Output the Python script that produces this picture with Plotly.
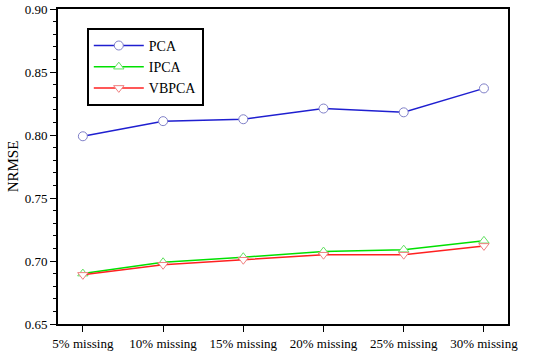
import plotly.graph_objects as go

categories = ["5% missing", "10% missing", "15% missing", "20% missing", "25% missing", "30% missing"]
pca = [0.799, 0.811, 0.8125, 0.821, 0.818, 0.837]
ipca = [0.690, 0.699, 0.703, 0.7075, 0.709, 0.716]
vbpca = [0.689, 0.697, 0.701, 0.705, 0.705, 0.712]
y_ticks = [0.65, 0.70, 0.75, 0.80, 0.85, 0.90]

x = list(range(len(categories)))
fig = go.Figure()
specs = [
    ("PCA", pca, "#1f1fd0", "#8080c8", "circle"),
    ("IPCA", ipca, "#00e000", "#60e060", "triangle-up"),
    ("VBPCA", vbpca, "#ff2020", "#f08080", "triangle-down"),
]
for name, vals, lc, mc, sym in specs:
    fig.add_trace(go.Scatter(
        x=x, y=vals, name=name, mode="lines+markers",
        line=dict(color=lc, width=1.5),
        marker=dict(symbol=sym, size=9, color="white", line=dict(color=mc, width=1)),
    ))

font = dict(family="Liberation Serif", size=13, color="black")
fig.update_layout(
    width=550, height=355,
    margin=dict(l=58, r=42, t=9, b=31, autoexpand=False),
    plot_bgcolor="white", paper_bgcolor="white",
    font=font,
    showlegend=True,
    legend=dict(x=0.064, y=0.94, xanchor="left", yanchor="top",
                bordercolor="black", borderwidth=2, bgcolor="white",
                font=dict(family="Liberation Serif", size=14),
                itemwidth=50, tracegroupgap=0),
)
fig.update_xaxes(
    tickmode="array", tickvals=x, ticktext=categories,
    range=[-0.31, 5.3], showgrid=False, zeroline=False, automargin=False,
    showline=True, linecolor="black", linewidth=2, mirror=True,
    ticks="outside", ticklen=6, tickcolor="black",
)
fig.update_yaxes(
    title=dict(text="NRMSE", font=dict(family="Liberation Serif", size=15), standoff=2),
    range=[0.65, 0.90], tickvals=y_ticks, ticktext=[f"{v:.2f}" for v in y_ticks],
    showgrid=False, zeroline=False, automargin=False,
    showline=True, linecolor="black", linewidth=2, mirror=True,
    ticks="outside", ticklen=6, tickcolor="black",
    minor=dict(dtick=0.01, ticks="outside", ticklen=3, tickcolor="black", showgrid=False),
)
fig.write_html("out.html", config={"displayModeBar": False},
               post_script="document.body.style.margin='0';")
